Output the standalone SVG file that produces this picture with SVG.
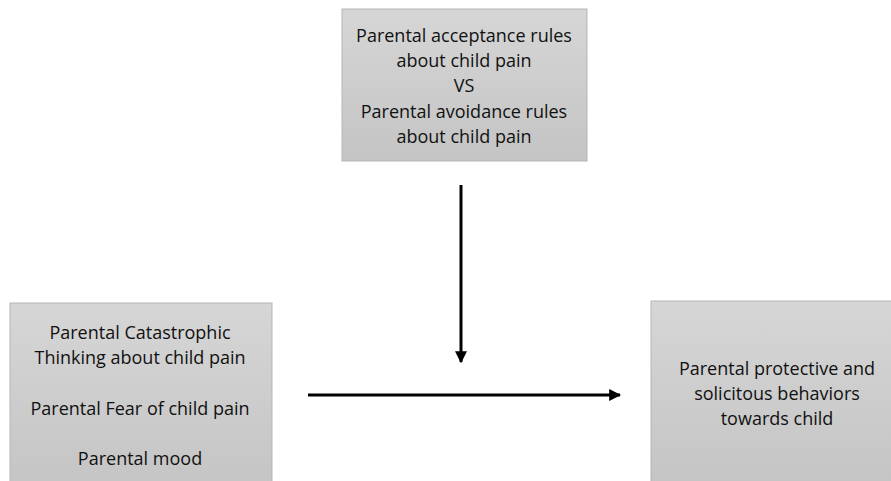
<svg xmlns="http://www.w3.org/2000/svg" width="891" height="481" viewBox="0 0 891 481">
<defs>
<linearGradient id="g" x1="0" y1="0" x2="0" y2="1">
<stop offset="0" stop-color="#d6d6d6"/>
<stop offset="1" stop-color="#c4c4c4"/>
</linearGradient>
<marker id="ah" viewBox="0 0 10 10" refX="9" refY="5" markerWidth="4" markerHeight="4" orient="auto" markerUnits="strokeWidth">
<path d="M0,0 L10,5 L0,10 z" fill="#000"/>
</marker>
<style>
.box{fill:url(#g);stroke:#b5b5b5;stroke-width:1}
.t{font-family:"Open Sans","Liberation Sans",sans-serif;font-size:18px;fill:#111;text-anchor:middle}
.c{stroke:#000;stroke-width:3;fill:none;marker-end:url(#ah)}
</style>
</defs>
<rect width="891" height="481" fill="#fff"/>
<g id="moderator">
<rect class="box" x="342" y="9" width="245" height="152"/>
<text class="t" x="464" y="42">Parental acceptance rules</text>
<text class="t" x="464" y="67">about child pain</text>
<text class="t" x="464" y="92">VS</text>
<text class="t" x="464" y="118">Parental avoidance rules</text>
<text class="t" x="464" y="143">about child pain</text>
</g>
<g id="predictors">
<rect class="box" x="10" y="303" width="262" height="190"/>
<text class="t" x="140" y="339">Parental Catastrophic</text>
<text class="t" x="140" y="364">Thinking about child pain</text>
<text class="t" x="140" y="415">Parental Fear of child pain</text>
<text class="t" x="140" y="465">Parental mood</text>
</g>
<g id="outcome">
<rect class="box" x="651" y="301" width="250" height="190"/>
<text class="t" x="777" y="375">Parental protective and</text>
<text class="t" x="777" y="400">solicitous behaviors</text>
<text class="t" x="777" y="425">towards child</text>
</g>
<g id="connectors">
<line class="c" x1="461" y1="185" x2="461" y2="362"/>
<line class="c" x1="308" y1="395" x2="620" y2="395"/>
</g>
</svg>
